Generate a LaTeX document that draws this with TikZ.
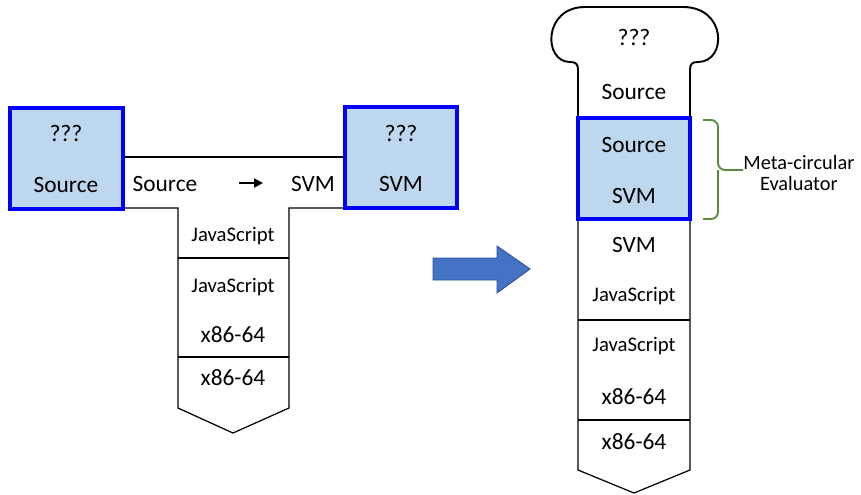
\documentclass[tikz,border=0pt]{standalone}
\usepackage{fontspec}
\setmainfont{Carlito}
\usetikzlibrary{arrows.meta}

\definecolor{boxfill}{HTML}{BDD7EE}
\definecolor{arrowfill}{HTML}{4472C4}
\definecolor{arrowline}{HTML}{2F528F}
\definecolor{bracegreen}{HTML}{5A8C3C}

\tikzset{
  big/.style={font=\fontsize{13.3}{15}\selectfont, inner sep=0pt},
  small/.style={font=\fontsize{11.8}{14}\selectfont, inner sep=0pt},
  qmark/.style={font=\fontsize{13.5}{15}\selectfont, inner sep=0pt},
  evalbox/.style={fill=boxfill, draw=blue, line width=2.1pt},
  tline/.style={draw=black, line width=0.7pt},
}

\begin{document}
\begin{tikzpicture}[x=0.02cm,y=-0.02cm]
  \useasboundingbox (0,0) rectangle (861,494);

  % Left T-diagram
  \draw[tline] (123,157) -- (345,157);
  \draw[tline] (123,208) -- (178,208) -- (178,408) -- (233,433) -- (289,408) -- (289,208) -- (345,208);
  \draw[tline] (178,258) -- (289,258);
  \draw[tline] (178,357) -- (289,357);
  \draw[evalbox] (10,108) rectangle (123,209);
  \draw[evalbox] (345,107) rectangle (457,208);

  \node[qmark] (lq) at (66,133) {???};
  \node[big] (lsrc) at (66,185) {Source};
  \node[big] (bsrc) at (165,184) {Source};
  \node[big] (bsvm) at (313,184) {SVM};
  \node[qmark] (rq) at (401,133) {???};
  \node[big] (rsvm) at (401,184) {SVM};
  \node[small] (tjs) at (233,236) {JavaScript};
  \node[small] (mjs) at (233,287) {JavaScript};
  \node[big] (mx) at (233,335) {x86-64};
  \node[big] (bx) at (233,378) {x86-64};

  \coordinate (arrS) at (239,183);
  \coordinate (arrE) at (263,183);
  \draw[-{Triangle[length=5pt,width=5pt]}, line width=1.2pt] (arrS) -- (arrE);

  % Big arrow
  \draw[fill=arrowfill, draw=arrowline, line width=0.5pt]
    (433,258) -- (497,258) -- (497,246) -- (530,269) -- (497,293) -- (497,280) -- (433,280) -- cycle;

  % Right column
  \draw[line width=1.1pt] (578,118) -- (578,70) .. controls (578,64) and (576,62) .. (570,62)
    .. controls (543,62) and (543,7) .. (585,7) -- (683,7)
    .. controls (727,7) and (727,62) .. (698,62) .. controls (692,62) and (690,64) .. (690,70) -- (690,118);
  \draw[tline] (578,219) -- (578,470) -- (634,493) -- (690,470) -- (690,219);
  \draw[tline] (578,320) -- (690,320);
  \draw[tline] (578,420) -- (690,420);
  \draw[evalbox] (578,118) rectangle (690,219);

  \node[qmark] (cq) at (634,37) {???};
  \node[big] (csrc) at (634,92) {Source};
  \node[big] (esrc) at (634,145) {Source};
  \node[big] (esvm) at (634,196) {SVM};
  \node[big] (csvm) at (634,245) {SVM};
  \node[small] (cjs) at (634,296) {JavaScript};
  \node[small] (djs) at (634,346) {JavaScript};
  \node[big] (dx) at (634,397) {x86-64};
  \node[big] (ex) at (634,442) {x86-64};

  % Meta-circular brace
  \node[small, align=center, font=\fontsize{11.6}{12}\selectfont, anchor=west] (meta) at (743,173) {Meta-circular\\Evaluator};
  \coordinate (brTop) at (703,120);
  \coordinate (brBot) at (703,219);
  \coordinate (brTip) at (meta.west);
  \draw[bracegreen, line width=1.1pt, rounded corners=4] (brTop) -- (718,120) -- (718,170) -- (brTip |- 0,170);
  \draw[bracegreen, line width=1.1pt, rounded corners=4] (brBot) -- (718,219) -- (718,170);
\end{tikzpicture}
\end{document}
